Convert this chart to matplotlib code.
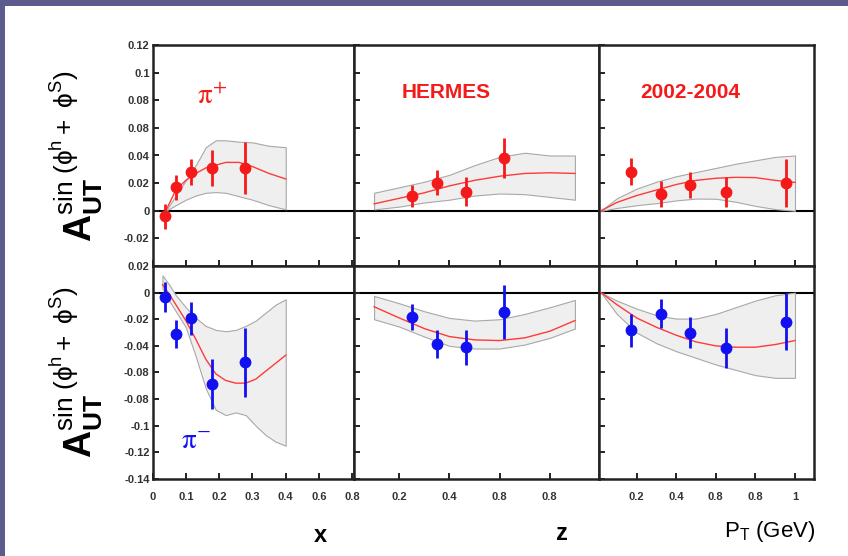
import matplotlib
matplotlib.use("Agg")
import matplotlib.pyplot as plt
from matplotlib.patches import Rectangle

plt.rcParams["font.family"] = ["Liberation Sans", "DejaVu Sans"]
plt.rcParams["mathtext.fontset"] = "custom"
plt.rcParams["mathtext.rm"] = "Liberation Sans"
plt.rcParams["mathtext.bf"] = "Liberation Sans:bold"
plt.rcParams["mathtext.it"] = "Liberation Sans:italic"

RED = "#f41a1a"
BLUE = "#1010f0"
BAND = "#efefef"
BAND_EDGE = "#a8a8a8"

# --- bins ---
x_bins = [0.038, 0.07, 0.116, 0.18, 0.279]
z_bins = [0.25, 0.349, 0.466, 0.619]
pt_bins = [0.172, 0.323, 0.47, 0.65, 0.955]

# --- pi+ data ---
pip_x_val = [-0.004, 0.017, 0.028, 0.031, 0.031]
pip_x_err = [0.009, 0.009, 0.0095, 0.013, 0.019]
pip_z_val = [0.011, 0.0204, 0.0139, 0.038]
pip_z_err = [0.008, 0.0088, 0.0104, 0.0144]
pip_pt_val = [0.0283, 0.012, 0.0187, 0.0134, 0.020]
pip_pt_err = [0.010, 0.0094, 0.0092, 0.0108, 0.0176]

# --- pi- data ---
pim_x_val = [-0.0032, -0.031, -0.0194, -0.0687, -0.0523]
pim_x_err = [0.011, 0.0104, 0.0123, 0.0185, 0.026]
pim_z_val = [-0.0183, -0.0385, -0.041, -0.0146]
pim_z_err = [0.0097, 0.0103, 0.013, 0.020]
pim_pt_val = [-0.0284, -0.0158, -0.0302, -0.0415, -0.0219]
pim_pt_err = [0.0126, 0.011, 0.0116, 0.0151, 0.0213]

# --- model curves and bands ---
px_grid = [0.04, 0.07, 0.1, 0.13, 0.16, 0.19, 0.22, 0.26, 0.30, 0.35, 0.40]
px_curve = [0.0, 0.015, 0.022, 0.027, 0.031, 0.033, 0.035, 0.035, 0.032, 0.027, 0.023]
px_upper = [0.0, 0.011, 0.022, 0.033, 0.046, 0.051, 0.051, 0.050, 0.0495, 0.047, 0.046]
px_lower = [0.0, 0.004, 0.008, 0.011, 0.013, 0.0135, 0.013, 0.0105, 0.008, 0.004, 0.001]

z_grid = [0.1, 0.2, 0.3, 0.4, 0.5, 0.6, 0.7, 0.8, 0.9]
pz_curve = [0.005, 0.009, 0.013, 0.018, 0.022, 0.025, 0.027, 0.0275, 0.027]
pz_upper = [0.013, 0.017, 0.021, 0.026, 0.033, 0.039, 0.042, 0.040, 0.040]
pz_lower = [0.001, 0.003, 0.006, 0.008, 0.011, 0.0125, 0.012, 0.010, 0.008]

pt_grid = [0.02, 0.1, 0.2, 0.3, 0.4, 0.5, 0.6, 0.7, 0.8, 0.9, 1.0]
ppt_curve = [0.0, 0.006, 0.011, 0.015, 0.019, 0.022, 0.0235, 0.0242, 0.024, 0.022, 0.0205]
ppt_upper = [0.0, 0.009, 0.016, 0.021, 0.025, 0.028, 0.031, 0.034, 0.0365, 0.039, 0.040]
ppt_lower = [0.0, 0.002, 0.004, 0.0055, 0.0075, 0.0088, 0.0087, 0.0065, 0.0035, 0.0012, 0.0]

mx_grid = [0.03, 0.05, 0.07, 0.1, 0.13, 0.16, 0.19, 0.22, 0.25, 0.28, 0.31, 0.34, 0.37, 0.4]
mx_curve = [0.006, -0.001, -0.009, -0.021, -0.035, -0.050, -0.061, -0.066, -0.068, -0.068,
            -0.065, -0.059, -0.053, -0.047]
mx_upper = [0.013, 0.006, -0.002, -0.011, -0.019, -0.025, -0.028, -0.029, -0.028, -0.025,
            -0.021, -0.015, -0.009, -0.005]
mx_lower = [0.003, -0.006, -0.014, -0.026, -0.048, -0.072, -0.088, -0.092, -0.090, -0.092,
            -0.100, -0.107, -0.112, -0.115]

mz_curve = [-0.0106, -0.019, -0.027, -0.033, -0.0355, -0.036, -0.034, -0.029, -0.021]
mz_upper = [-0.0025, -0.008, -0.014, -0.019, -0.021, -0.020, -0.016, -0.011, -0.0055]
mz_lower = [-0.020, -0.0255, -0.033, -0.040, -0.042, -0.042, -0.039, -0.034, -0.027]

mpt_curve = [0.0, -0.009, -0.019, -0.026, -0.032, -0.037, -0.040, -0.041, -0.041, -0.039, -0.036]
mpt_upper = [0.0, -0.006, -0.012, -0.017, -0.0195, -0.0195, -0.016, -0.011, -0.006, -0.002, 0.0]
mpt_lower = [0.0, -0.016, -0.030, -0.038, -0.044, -0.049, -0.054, -0.058, -0.062, -0.064, -0.064]

# --- tick labels (as printed on the figure) ---
top_yticks = [0.12, 0.1, 0.08, 0.06, 0.04, 0.02, 0, -0.02]
top_ylabels = ["0.12", "0.1", "0.08", "0.08", "0.04", "0.02", "0", "-0.02"]
bot_yticks = [0.02, 0, -0.02, -0.04, -0.06, -0.08, -0.1, -0.12, -0.14]
bot_ylabels = ["0.02", "0", "-0.02", "-0.04", "-0.08", "-0.08", "-0.1", "-0.12", "-0.14"]
x_ticks = [0, 0.1, 0.2, 0.3, 0.4, 0.5, 0.6]
x_labels = ["0", "0.1", "0.2", "0.3", "0.4", "0.6", "0.8"]
z_ticks = [0.2, 0.4, 0.6, 0.8]
z_labels = ["0.2", "0.4", "0.8", "0.8"]
pt_ticks = [0.2, 0.4, 0.6, 0.8, 1.0]
pt_labels = ["0.2", "0.4", "0.8", "0.8", "1"]

W, H = 848, 556
fig = plt.figure(figsize=(W / 100, H / 100), dpi=100, facecolor="#5b5b8e")
fig.patches.append(Rectangle((5 / W, 0), 1, 1 - 6 / H, transform=fig.transFigure,
                             facecolor="white", edgecolor="none", zorder=-10))


def fx(px):
    return px / W


def fy(py):
    return 1 - py / H


cols = [(152.5, 354), (354, 599), (599, 814)]
rows = [(45, 266), (266, 479)]
xlims = [(0, 0.605), (0.02, 0.996), (0.01, 1.096)]

axes = [[None] * 3 for _ in range(2)]
for r, (t, b) in enumerate(rows):
    for c, (l, rr) in enumerate(cols):
        ax = fig.add_axes([fx(l), fy(b), fx(rr) - fx(l), fy(t) - fy(b)])
        ax.set_xlim(*xlims[c])
        ax.set_ylim(-0.04, 0.12) if r == 0 else ax.set_ylim(-0.14, 0.02)
        for s in ax.spines.values():
            s.set_linewidth(1.8)
            s.set_color("#222222")
        ax.tick_params(direction="in", length=4.5, width=1.4, color="#222222",
                       labelsize=8, labelcolor="#333333", pad=2)
        ax.tick_params(axis="x", pad=9)
        ax.axhline(0, color="black", linewidth=1.5, zorder=1)
        axes[r][c] = ax

grids = [px_grid, z_grid, pt_grid]
xgrids = [mx_grid, z_grid, pt_grid]
bins = [x_bins, z_bins, pt_bins]
top_sets = [(px_curve, px_upper, px_lower, pip_x_val, pip_x_err),
            (pz_curve, pz_upper, pz_lower, pip_z_val, pip_z_err),
            (ppt_curve, ppt_upper, ppt_lower, pip_pt_val, pip_pt_err)]
bot_sets = [(mx_curve, mx_upper, mx_lower, pim_x_val, pim_x_err),
            (mz_curve, mz_upper, mz_lower, pim_z_val, pim_z_err),
            (mpt_curve, mpt_upper, mpt_lower, pim_pt_val, pim_pt_err)]

for c in range(3):
    for r, sets, g, col in [(0, top_sets, grids[c], RED), (1, bot_sets, xgrids[c], BLUE)]:
        ax = axes[r][c]
        curve, up, lo, val, err = sets[c]
        ax.fill_between(g, lo, up, facecolor=BAND, edgecolor=BAND_EDGE, linewidth=0.8, zorder=2)
        ax.plot(g, curve, color="#ff3a3a", linewidth=1.0, zorder=3)
        ax.errorbar(bins[c], val, yerr=err, fmt="o", color=col, markersize=7.5,
                    elinewidth=2.0, capsize=0, zorder=4)

for r, (yt, yl) in enumerate([(top_yticks, top_ylabels), (bot_yticks, bot_ylabels)]):
    for c in range(3):
        ax = axes[r][c]
        ax.set_yticks(yt)
        if c == 0:
            ax.set_yticklabels(yl, fontweight="bold")
        else:
            ax.set_yticklabels([])

for c, (xt, xl) in enumerate([(x_ticks, x_labels), (z_ticks, z_labels), (pt_ticks, pt_labels)]):
    axes[0][c].set_xticks(xt)
    axes[0][c].set_xticklabels([])
    axes[1][c].set_xticks(xt)
    axes[1][c].set_xticklabels(xl, fontweight="bold")

# panel labels
axes[0][0].text(0.18, 0.083, r"$\mathrm{\pi}^{+}$", color=RED, fontsize=21,
                math_fontfamily="stix", ha="center", va="center")
axes[1][0].text(0.13, -0.111, r"$\mathrm{\pi}^{-}$", color=BLUE, fontsize=21,
                math_fontfamily="stix", ha="center", va="center")
fig.text(fx(446), fy(93), "HERMES", color=RED, fontsize=15, fontweight="bold",
         ha="center", va="center")
fig.text(fx(690), fy(93), "2002-2004", color=RED, fontsize=15, fontweight="bold",
         ha="center", va="center")

# axis titles
ylab = r"$\mathbf{A}_{\mathbf{UT}}^{\mathrm{sin}\ (\mathrm{\phi}^{\mathrm{h}}+\ \mathrm{\phi}^{\mathrm{S}})}$"
fig.text(fx(76), fy(156), ylab, rotation=90, fontsize=27, ha="center", va="center")
fig.text(fx(76), fy(372), ylab, rotation=90, fontsize=27, ha="center", va="center")
fig.text(fx(320), fy(535), "x", fontsize=17, fontweight="bold", ha="center", va="center")
fig.text(fx(562), fy(533), "z", fontsize=17, fontweight="bold", ha="center", va="center")
fig.text(fx(770), fy(532), r"P$_\mathrm{T}$ (GeV)", fontsize=16, ha="center", va="center")

fig.savefig("out.png", dpi=100, facecolor=fig.get_facecolor())
